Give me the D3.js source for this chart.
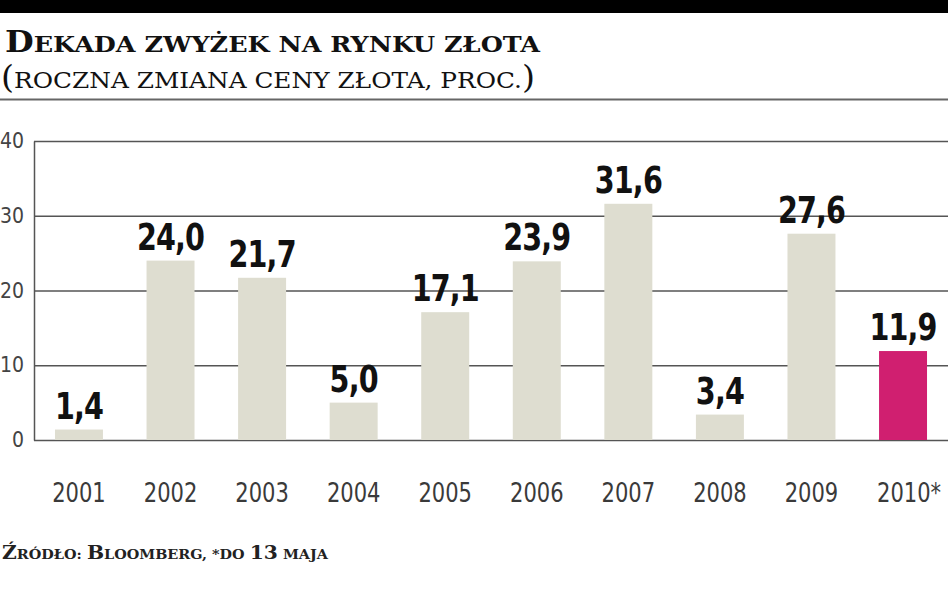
<!DOCTYPE html>
<html>
<head>
<meta charset="utf-8">
<script src="https://cdn.jsdelivr.net/npm/d3@7"></script>
<style>
  html, body { margin: 0; padding: 0; background: #fff; }
  svg { display: block; }
</style>
</head>
<body>
<svg id="chart" width="948" height="593"></svg>
<script>
// data
const years = ['2001', '2002', '2003', '2004', '2005', '2006', '2007', '2008', '2009', '2010*'];
const changes = [1.4, 24.0, 21.7, 5.0, 17.1, 23.9, 31.6, 3.4, 27.6, 11.9];
const yTicks = [0, 10, 20, 30, 40];
const highlight = '2010*';

const W = 948, H = 593;
const sans = "'DejaVu Sans Condensed', 'DejaVu Sans', sans-serif";
const svg = d3.select('#chart');

// black strip on top
svg.append('rect').attr('x', 0).attr('y', 0).attr('width', W).attr('height', 13).attr('fill', '#000');

// title, small caps done by hand
const title = svg.append('text')
    .attr('x', 5).attr('y', 52)
    .attr('font-family', 'DejaVu Serif')
    .attr('font-weight', 'bold')
    .attr('fill', '#111')
    .attr('textLength', 535).attr('lengthAdjust', 'spacingAndGlyphs');
title.append('tspan').attr('font-size', 30).text('D');
title.append('tspan').attr('font-size', 23).text('EKADA ZWYŻEK NA RYNKU ZŁOTA');

const sub = svg.append('text')
    .attr('x', 1).attr('y', 88)
    .attr('font-family', 'DejaVu Serif')
    .attr('fill', '#111')
    .attr('textLength', 534).attr('lengthAdjust', 'spacingAndGlyphs');
sub.append('tspan').attr('font-size', 31).text('(');
sub.append('tspan').attr('font-size', 23).text('ROCZNA ZMIANA CENY ZŁOTA, PROC.');
sub.append('tspan').attr('font-size', 31).text(')');

svg.append('line')
    .attr('x1', 0).attr('x2', W).attr('y1', 99.5).attr('y2', 99.5)
    .attr('stroke', '#666').attr('stroke-width', 2);

// scales
const x = d3.scaleBand()
    .domain(years)
    .range([33, 949])
    .paddingInner(0.476)
    .paddingOuter(0.24);

const y = d3.scaleLinear()
    .domain([0, 40])
    .range([440, 141]);

// gridlines + y axis
const yAxis = svg.append('g')
    .attr('transform', 'translate(34,0)')
    .call(d3.axisLeft(y)
        .tickValues(yTicks)
        .tickSizeInner(-(W - 34))
        .tickSizeOuter(0)
        .tickPadding(10)
        .tickFormat(d3.format('d')));
yAxis.selectAll('.domain').attr('stroke', '#555').attr('stroke-width', 1.5);
yAxis.selectAll('.tick line').attr('stroke', '#555').attr('stroke-width', 1.5);
yAxis.selectAll('.tick text')
    .attr('font-family', sans)
    .attr('font-size', 21)
    .attr('fill', '#444');

// bars
svg.append('g').selectAll('rect')
    .data(years)
    .join('rect')
    .attr('x', d => x(d))
    .attr('width', x.bandwidth())
    .attr('y', (d, i) => y(changes[i]))
    .attr('height', (d, i) => y(0) - y(changes[i]))
    .attr('fill', d => d === highlight ? '#d01f70' : '#deddd0');

// value labels (squeezed a bit to look condensed)
svg.append('g').selectAll('text')
    .data(years)
    .join('text')
    .attr('transform', (d, i) => `translate(${x(d) + x.bandwidth() / 2},${y(changes[i]) - 11}) scale(0.86,1)`)
    .attr('text-anchor', 'middle')
    .attr('font-family', sans)
    .attr('font-weight', 'bold')
    .attr('font-size', 37)
    .attr('letter-spacing', -1)
    .attr('fill', '#111')
    .text((d, i) => changes[i].toFixed(1).replace('.', ','));

// year labels
const xAxis = svg.append('g')
    .attr('transform', 'translate(0,502)')
    .call(d3.axisBottom(x).tickSize(0).tickPadding(0));
xAxis.select('.domain').remove();
xAxis.selectAll('.tick text')
    .attr('dy', 0)
    .attr('transform', d => `translate(${d.endsWith('*') ? 6 : 0},0) scale(0.9,1)`)
    .attr('font-family', sans)
    .attr('font-size', 26)
    .attr('fill', '#3a3a3a');

// source note
const src = svg.append('text')
    .attr('x', 2).attr('y', 559)
    .attr('font-family', 'DejaVu Serif')
    .attr('font-weight', 'bold')
    .attr('fill', '#222')
    .attr('textLength', 326).attr('lengthAdjust', 'spacingAndGlyphs');
src.append('tspan').attr('font-size', 19).text('Ź');
src.append('tspan').attr('font-size', 13.5).text('RÓDŁO: ');
src.append('tspan').attr('font-size', 19).text('B');
src.append('tspan').attr('font-size', 13.5).text('LOOMBERG, *DO ');
src.append('tspan').attr('font-size', 19).text('13');
src.append('tspan').attr('font-size', 13.5).text(' MAJA');
</script>
</body>
</html>
